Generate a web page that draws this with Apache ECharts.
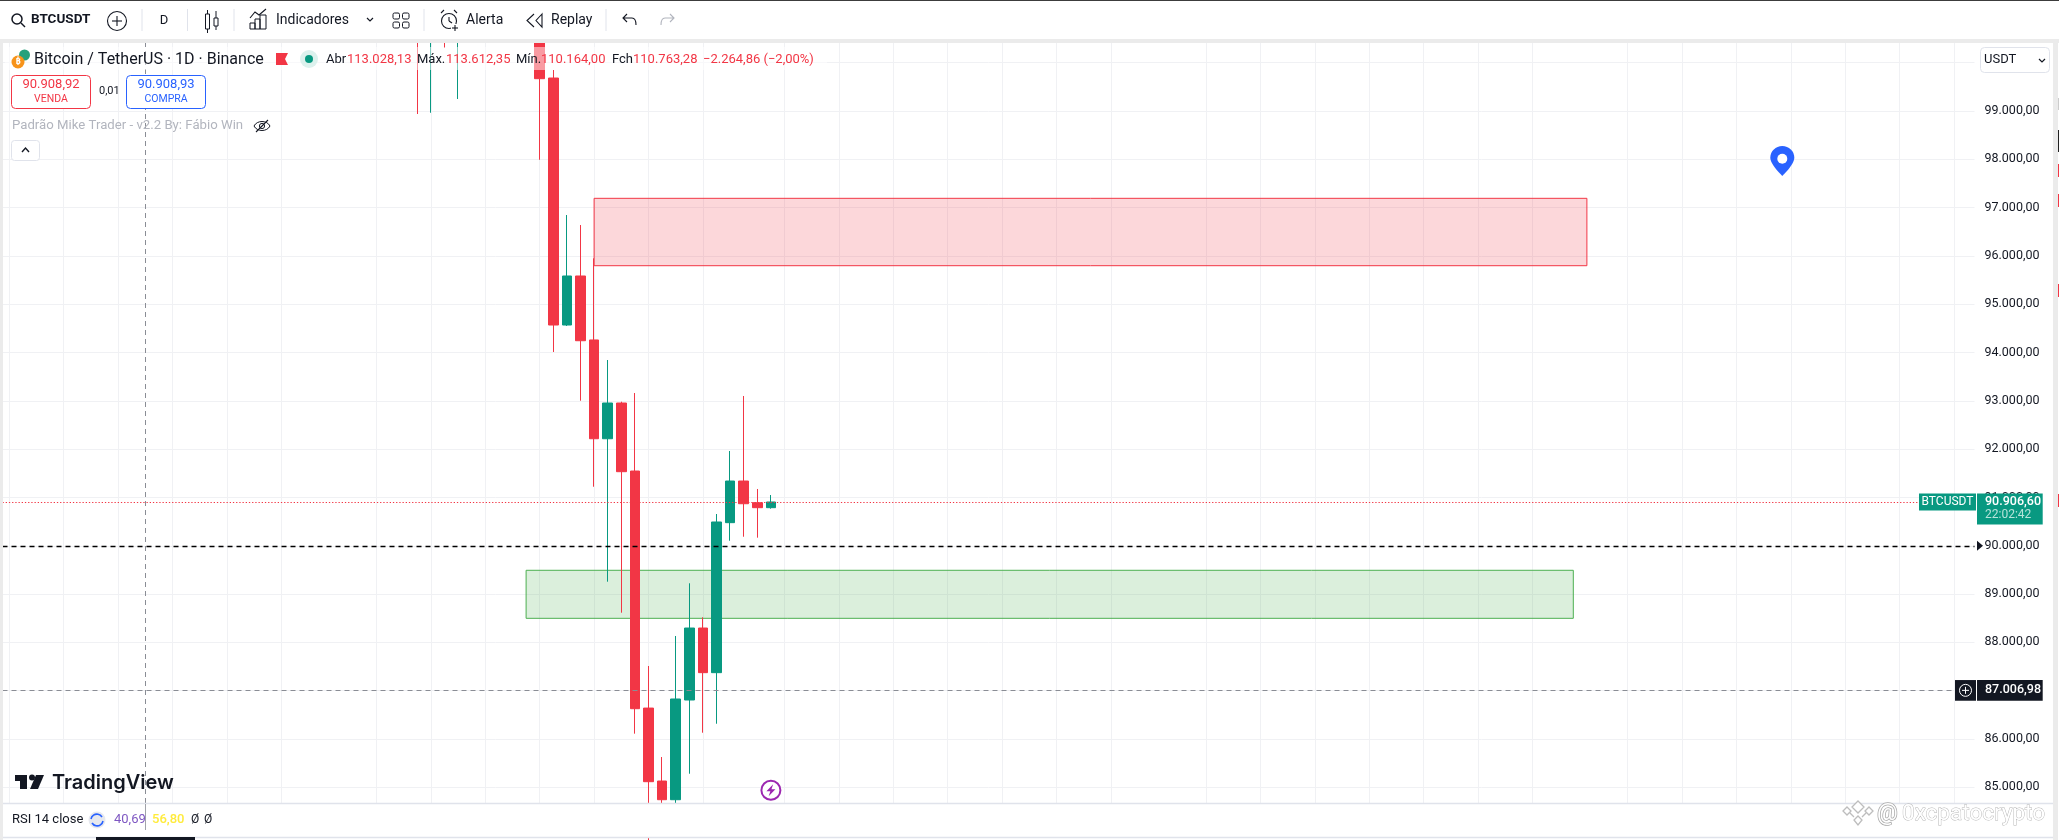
<!DOCTYPE html>
<html><head><meta charset="utf-8">
<style>html,body{margin:0;padding:0;background:#fff}#c{width:2059px;height:840px}</style>
<script src="https://cdn.jsdelivr.net/npm/echarts@6/dist/echarts.min.js"></script>
</head><body><div id="c"></div>
<script>
// ---- data ----
const slotCount = 145;
const firstCandleSlot = 30;
const opens  = [106500,101500,103900,101300,103300,102300,104700,105900,103050,101650,99682,94569,95584,94260,92215,92955,91547,86640,85130,84743,86807,88297,87373,90478,91340,90891,90788];
const closes = [101500,103900,101300,103300,102300,104700,105900,103050,101650,99668,94569,95584,94244,92215,92955,91533,86627,85116,84743,86828,88297,87373,90492,91340,90870,90788,90906];
const lows   = [98937,98963,100303,99248,101450,101400,104200,102500,100800,97990,94011,94549,93002,91222,89256,88614,86110,80600,84100,84100,85281,86130,86316,90104,90187,90167,90767];
const highs  = [107300,104500,104200,104000,103900,105000,106650,107500,105300,104085,99848,96846,96639,95950,93845,92982,93162,87511,85627,88132,89223,88519,90657,91961,93100,91175,91050];
const priceTicks = [99000,98000,97000,96000,95000,94000,93000,92000,91000,90000,89000,88000,87000,86000,85000];
const gridPrices = [100000].concat(priceTicks);
const verticalGridSlots = [0,4,8,12,16,20,27,31,35,39,43,47,51,57,61,65,69,73,77,81,88,92,96,100,104,108,112,119,123,127,131,135,139,143];
const resistanceZone = {from:43,to:116,top:97192,bottom:95797};
const supportZone = {from:38,to:115,top:89492,bottom:88498};
const lastPrice = 90906.60;
const roundLevel = 90000;
const crosshairPrice = 87006.98;
const crosshairSlot = 10;
const yMin = 84675, yMax = 100407;

const categories = Array.from({length:slotCount},(_,i)=>'D'+i);
const candleData = categories.map((_,i)=>{
  const k=i-firstCandleSlot;
  return (k>=0&&k<opens.length)?[opens[k],closes[k],lows[k],highs[k]]:'-';
});
const fmt = v=>v.toLocaleString('pt-BR',{minimumFractionDigits:2,maximumFractionDigits:2});

const RED='#F23645',GREEN='#089981',INK='#131722',F='Roboto, "Noto Sans", sans-serif';
const gridSet=new Set(verticalGridSlots);
const chart=echarts.init(document.getElementById('c'),null,{renderer:'canvas'});

chart.setOption({
  animation:false,
  backgroundColor:'#ffffff',
  grid:{left:2.5,right:84.5,top:43,bottom:37,containLabel:false},
  xAxis:{type:'category',data:categories,boundaryGap:true,
    axisLine:{show:false},axisTick:{show:false},axisLabel:{show:false},
    splitLine:{show:true,alignWithLabel:true,interval:(i)=>gridSet.has(i),lineStyle:{color:'#F0F1F4',width:1}}},
  yAxis:{type:'value',position:'right',min:yMin,max:yMax,scale:true,
    axisLine:{show:false},
    axisTick:{show:false,customValues:gridPrices},
    axisLabel:{customValues:priceTicks,margin:10,color:INK,fontFamily:F,fontSize:12.5,align:'left',
      showMinLabel:true,showMaxLabel:true,formatter:v=>fmt(v)},
    splitLine:{show:true,lineStyle:{color:'#F0F1F4',width:1}}},
  series:[{
    type:'candlestick',data:candleData,barWidth:10,
    itemStyle:{color:GREEN,color0:RED,borderColor:GREEN,borderColor0:RED,borderWidth:1},
    markArea:{silent:true,data:[
      [{coord:[resistanceZone.from,resistanceZone.top],itemStyle:{color:'rgba(242,54,69,0.2)',borderColor:RED,borderWidth:1}},
       {coord:[resistanceZone.to,resistanceZone.bottom]}],
      [{coord:[supportZone.from,supportZone.top],itemStyle:{color:'rgba(76,175,80,0.2)',borderColor:'#4CAF50',borderWidth:1}},
       {coord:[supportZone.to,supportZone.bottom]}]
    ]},
    markLine:{silent:true,symbol:'none',label:{show:false},animation:false,data:[
      {yAxis:lastPrice,lineStyle:{color:RED,type:[1.3,1.9],width:1}},
      {yAxis:roundLevel,lineStyle:{color:'#000000',type:[5,4],width:1.3}},
      {yAxis:crosshairPrice,lineStyle:{color:'#8a8d95',type:[5,4],width:1}},
      {xAxis:crosshairSlot,lineStyle:{color:'#8a8d95',type:[5,4],width:1}}
    ]},
    markPoint:{silent:true,animation:false,label:{show:false},data:[
      {coord:[130,97964],symbol:'path://M12 0C5.4 0 0 5.2 0 11.6 0 19 12 30 12 30S24 19 24 11.6C24 5.2 18.6 0 12 0Z',symbolSize:[24,30],symbolOffset:[5,0],itemStyle:{color:'#2962FF'}},
      {coord:[130,98012],symbol:'circle',symbolSize:10,symbolOffset:[5,0],itemStyle:{color:'#fff'}},
      {coord:[56,84938],symbol:'circle',symbolSize:19,itemStyle:{color:'#fff',borderColor:'#9C27B0',borderWidth:2}},
      {coord:[56,84938],symbol:'path://M7 0 L1 7 L4.5 7 L3 12 L9 5 L5.5 5 Z',symbolSize:[9,12],itemStyle:{color:'#9C27B0'}}
    ]}
  }]
});

// ---- interface chrome around the plot ----
const y=v=>chart.convertToPixel({yAxisIndex:0},v);
const Z=50;
let pathCount=0;
const T=(x,yy,text,o={})=>({type:'text',z:o.z||Z,x,y:yy,style:{text,fill:o.c||INK,font:`${o.w||'normal'} ${o.s||13}px ${o.f||F}`,textAlign:o.a||'left',textVerticalAlign:'middle',verticalAlign:'middle',stroke:o.st,lineWidth:o.lw}});
const R=(x,yy,w,h,fill,o={})=>({type:'rect',z:o.z||Z,shape:{x,y:yy,width:w,height:h,r:o.r||0},style:{fill,stroke:o.st,lineWidth:o.lw||1}});
const L=(a,b,c,d,st,lw=1)=>({type:'line',z:Z,shape:{x1:a,y1:b,x2:c,y2:d},style:{stroke:st,lineWidth:lw}});
const C=(cx,cy,r,fill,st,lw=1)=>({type:'circle',z:Z,shape:{cx,cy,r},style:{fill,stroke:st,lineWidth:lw}});
const P=(d,fill,st,lw=1.2)=>{
  const name='uiPath'+(pathCount++);
  echarts.graphic.registerShape(name,echarts.graphic.extendPath(d,{}));
  return {type:name,z:Z,style:{fill:fill||'none',stroke:st,lineWidth:lw}};
};

const tagY=y(lastPrice), crossY=y(crosshairPrice), levelY=y(roundLevel);
const els=[
  // frame
  R(0,0,2059,39,'#ffffff'),R(0,0,2059,1,'#3c3c3c'),
  R(0,39,2059,4,'#EBEBEB'),R(0,39,3,801,'#EBEBEB'),R(2053,39,6,801,'#EBEBEB'),
  R(2058,43,1,797,'#ffffff'),
  R(2058,98,1,12,'#ccc'),R(2058,130,1,22,'#222'),R(2058,164,1,13,RED),R(2058,194,1,13,RED),R(2058,284,1,13,RED),R(2058,494,1,13,RED),
  R(3,803,2050,34,'#ffffff'),L(3,803.5,2053,803.5,'#E0E3EB',1.5),L(3,837.5,2053,837.5,'#E0E3EB',1.5),
  R(96,837,99,3,INK),L(145.5,804,145.5,830,'#a0a3aa',1),
  // toolbar
  C(17,19,5,'none',INK,1.5),L(21,23,25,27,INK,1.5),
  T(31,20,'BTCUSDT',{w:'bold',s:13.5}),
  C(117,21,9.5,'none',INK,1.1),L(112,21,122,21,INK,1.1),L(117,16,117,26,INK,1.1),
  L(142,9,142,31,'#E0E3EB'),T(164,21,'D',{s:13,a:'center'}),L(187.5,9,187.5,31,'#E0E3EB'),
  R(205.5,14,4,15,'none',{st:INK}),L(207.5,10,207.5,14,INK),L(207.5,29,207.5,33,INK),
  R(214,18,4,8,'none',{st:INK}),L(216,11,216,18,INK),L(216,26,216,30,INK),
  L(234,9,234,31,'#E0E3EB'),
  P('M250 29V23H255V29ZM255 29V19H260V29ZM260 29V15H266V29Z',null,INK,1),P('M250 18L255 12L259 15L266 9',null,INK,1.1),
  T(276,20.5,'Indicadores',{s:14}),P('M367 18L370 21L373 18',null,INK,1.2),
  R(393,13,6.5,6,'none',{st:INK,r:1.5}),R(402.5,13,6.5,6,'none',{st:INK,r:1.5}),R(393,22,6.5,6,'none',{st:INK,r:1.5}),R(402.5,22,6.5,6,'none',{st:INK,r:1.5}),
  L(424,9,424,31,'#E0E3EB'),
  C(449,21,7.5,'none',INK,1.1),L(441,13,444,10,INK,1.1),L(457,13,454,10,INK,1.1),L(449,17,449,21,INK,1.1),L(449,21,452,23,INK,1.1),
  R(451,24,8,8,'#fff'),L(452,28,458,28,INK,1.1),L(455,25,455,31,INK,1.1),
  T(466,20.5,'Alerta',{s:14}),
  P('M534 14L527 20.5L534 27M542 14L536 20.5L542 27Z',null,INK,1.1),
  T(551,20.5,'Replay',{s:14}),L(606,9,606,31,'#E0E3EB'),
  P('M627 14L623 18L627 22M623 18H632C635 18 636 21 636 25',null,INK,1.1),
  P('M670 14L674 18L670 22M674 18H665C662 18 661 21 661 25',null,'#B2B5BE',1.1),
  // legend fade over the candles
  R(5,47,822,23,'rgba(255,255,255,0.5)'),
  C(24.5,55,5.5,'#26A17B'),C(18,62,6.5,'#F7931A'),T(18,62,'₿',{c:'#fff',s:9,a:'center',w:'bold'}),
  T(34,60,'Bitcoin / TetherUS · 1D · Binance',{s:16}),
  P('M276 53H288L285 59L288 65H276Z',RED),
  C(309,59,9,'#DCF1ED'),C(309,59,4,GREEN),
  T(326,60,'Abr',{s:13}),T(347,60,'113.028,13',{s:13,c:RED}),
  T(417,60,'Máx.',{s:13}),T(446,60,'113.612,35',{s:13,c:RED}),
  T(516,60,'Mín.',{s:13}),T(541,60,'110.164,00',{s:13,c:RED}),
  T(612,60,'Fch',{s:13}),T(633,60,'110.763,28',{s:13,c:RED}),
  T(703,60,'−2.264,86 (−2,00%)',{s:13,c:RED}),
  // order buttons
  R(11.5,75.5,79,33,'#fff',{st:RED,r:4}),T(51,85,'90.908,92',{s:13,c:RED,a:'center'}),T(51,99,'VENDA',{s:10.5,c:RED,a:'center'}),
  T(99,91,'0,01',{s:11}),
  R(126.5,75.5,79,33,'#fff',{st:'#2962FF',r:4}),T(166,85,'90.908,93',{s:13,c:'#2962FF',a:'center'}),T(166,99,'COMPRA',{s:10.5,c:'#2962FF',a:'center'}),
  T(12,126,'Padrão Mike Trader - v2.2 By: Fábio Win',{s:13.2,c:'#B2B5BE'}),
  P('M254 126C257 120 267 120 270 126C267 132 257 132 254 126Z',null,INK,1),C(262,126,2.6,'none',INK,1),L(256,132,268,120,INK,1.1),
  R(11.5,140.5,28,20,'#fff',{st:'#E0E3EB',r:3}),P('M22 152L25.5 148L29 152',null,INK,1.4),
  // USDT selector
  R(1980.5,47.5,69,25,'#fff',{st:'#E0E3EB',r:4}),T(1984,60,'USDT',{s:13}),P('M2039 59L2042 62L2045 59',null,INK,1.2),
  // price tags
  R(1919,tagY-8.5,57,17,GREEN),T(1947.5,tagY+0.3,'BTCUSDT',{s:12,c:'#fff',a:'center'}),
  R(1977,tagY-8.5,65.7,31,GREEN),T(1985,tagY,fmt(lastPrice),{s:12.5,c:'#fff',w:'500'}),T(1985,tagY+13.5,'22:02:42',{s:12,c:'#B5E3DA'}),
  P(`M1977 ${levelY-5}L1983 ${levelY}L1977 ${levelY+5}Z`,'#131722'),
  R(1955,crossY-10.3,21,20.7,INK),C(1965.5,crossY,6,'none','#fff',1),L(1962,crossY,1969,crossY,'#fff'),L(1965.5,crossY-3.5,1965.5,crossY+3.5,'#fff'),
  R(1977,crossY-10.3,65.7,20.7,INK),T(1985,crossY,fmt(crosshairPrice),{s:12.5,c:'#fff',w:'500'}),
  // TradingView logo
  P('M15 775H27V789H20V781H15Z',INK),C(32,777.5,3,INK),P('M36 775H44L38 789H30Z',INK),
  T(52,783,'TradingView',{s:20,w:'600',f:'Inter, Roboto, sans-serif'}),
  // RSI row
  T(12,820,'RSI 14 close',{s:13}),
  C(97,820,8.5,'#E6E8EE'),P('M91 819A6 6 0 0 1 102 817M103 821A6 6 0 0 1 92 823',null,'#2962FF',1.6),
  T(114,820,'40,69',{s:13,c:'#7E57C2'}),T(152,820,'56,80',{s:13,c:'#FFEB3B',w:'500'}),
  T(191,820,'Ø',{s:12}),T(204,820,'Ø',{s:12}),
  // watermark
  P('M1858 801L1864 807L1858 813L1852 807ZM1847 807L1851 811L1847 815L1843 811ZM1869 807L1873 811L1869 815L1865 811ZM1858 816L1862 820L1858 825L1854 820ZM1850 813L1854 817M1866 813L1862 817','#fff','#bdbdbd',1.3),
  T(1877,814,'@',{s:23,c:'#fff',st:'#a8a8a8',lw:1.5}),
  T(1902,814,'0xcpatocrypto',{s:22.5,c:'#fff',st:'#b4b4b4',lw:0.9,f:'Roboto, sans-serif'}),
];
chart.setOption({graphic:{elements:els}});
</script></body></html>
